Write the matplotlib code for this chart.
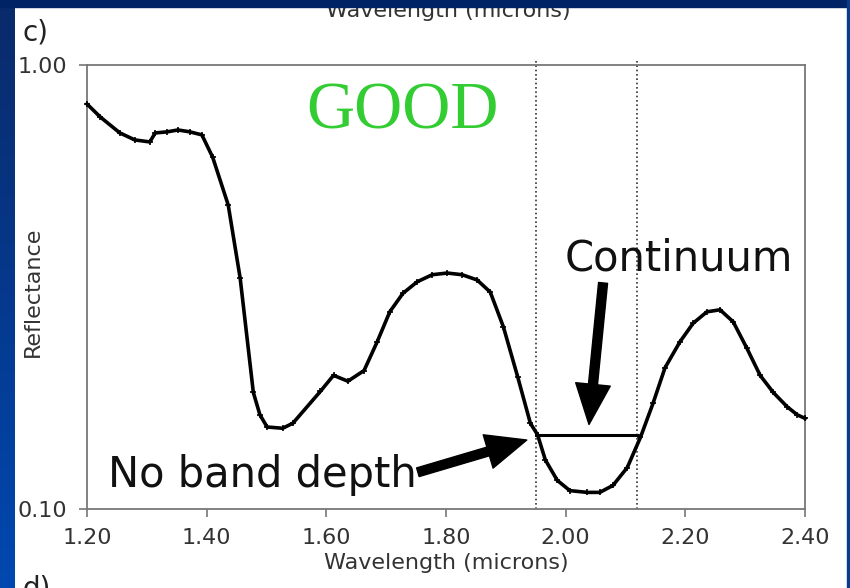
import numpy as np
import matplotlib.pyplot as plt
from matplotlib.patches import Rectangle
from matplotlib.colors import LinearSegmentedColormap

# 反射スペクトル (波長 [micron], 反射率)
wavelength = [1.200, 1.222, 1.255, 1.280, 1.305, 1.314, 1.334, 1.352, 1.372, 1.392,
              1.410, 1.436, 1.456, 1.478, 1.489, 1.501, 1.527, 1.544, 1.590, 1.612, 1.636,
              1.663, 1.685, 1.706, 1.728, 1.752, 1.777, 1.802, 1.827, 1.852, 1.874,
              1.896, 1.920, 1.941, 1.953, 1.966, 1.986, 2.007, 2.036, 2.057, 2.079,
              2.103, 2.125, 2.146, 2.166, 2.191, 2.213, 2.236, 2.258, 2.280, 2.303,
              2.325, 2.347, 2.370, 2.387, 2.400]
reflectance = [0.817, 0.764, 0.703, 0.678, 0.671, 0.703, 0.707, 0.714, 0.707, 0.696,
               0.620, 0.484, 0.331, 0.183, 0.163, 0.153, 0.152, 0.156, 0.184, 0.200, 0.194,
               0.205, 0.238, 0.278, 0.306, 0.325, 0.337, 0.340, 0.337, 0.328, 0.308,
               0.257, 0.198, 0.156, 0.147, 0.129, 0.116, 0.110, 0.109, 0.109, 0.113,
               0.124, 0.145, 0.173, 0.208, 0.238, 0.262, 0.278, 0.281, 0.264, 0.230,
               0.200, 0.183, 0.170, 0.163, 0.160]

# 連続体の両端と値
continuum_left = 1.95
continuum_right = 2.12
continuum_value = 0.147

x_ticks = [1.2, 1.4, 1.6, 1.8, 2.0, 2.2, 2.4]
x_ticklabels = ["1.20", "1.40", "1.60", "1.80", "2.00", "2.20", "2.40"]
y_ticks = [0.1, 1.0]
y_ticklabels = ["0.10", "1.00"]

W, H = 850, 588
fig = plt.figure(figsize=(W / 100, H / 100), dpi=100, facecolor="white")

# スライドの背景 (左のグラデーション帯、上と右の帯)
grad_ax = fig.add_axes([0, 0, 14 / W, 1])
grad = np.linspace(0, 1, 256).reshape(-1, 1)
slide_cmap = LinearSegmentedColormap.from_list("slide", ["#0a2a6a", "#0048b0"])
grad_ax.imshow(grad, aspect="auto", cmap=slide_cmap, origin="upper")
grad_ax.axis("off")
fig.patches.append(Rectangle((0, 1 - 7 / H), 1, 7 / H, transform=fig.transFigure,
                             color="#002366", zorder=10))
fig.patches.append(Rectangle((847 / W, 0), 3 / W, 1, transform=fig.transFigure,
                             color="#0a3a8a", zorder=10))

# 上のパネルの軸ラベル (一部だけ見える) とパネル記号
fig.text(448 / W, 1 - 17 / H, "Wavelength (microns)", ha="center", va="baseline",
         fontsize=16, color="#333333", zorder=1)
fig.text(22 / W, 1 - 40 / H, "c)", ha="left", va="baseline", fontsize=20, color="#222222")
fig.text(22 / W, -8 / H, "d)", ha="left", va="baseline", fontsize=20, color="#222222")

ax = fig.add_axes([87 / W, 1 - 509 / H, (805 - 87) / W, (509 - 65) / H])
ax.set_yscale("log")
ax.set_xlim(1.2, 2.4)
ax.set_ylim(0.1, 1.0)

# スペクトル
ax.plot(wavelength, reflectance, color="black", lw=2.6, marker="+", ms=4.5, mew=1.2,
        solid_joinstyle="round", zorder=3, clip_on=False)

# 連続体の位置を示す点線と水平線
for xv in (continuum_left, continuum_right):
    ax.axvline(xv, ymin=0, ymax=1.008, color="#333333", lw=1.2, ls=(0, (1, 1.6)),
               clip_on=False, zorder=2)
ax.plot([continuum_left, continuum_right], [continuum_value, continuum_value],
        color="black", lw=2.2, zorder=3)

# 注記
ax.text(1.728, 0.721, "GOOD", ha="center", va="baseline", fontsize=48,
        family="Liberation Serif", color="#33cc33")
ax.text(1.999, 0.345, "Continuum", ha="left", va="baseline", fontsize=30, color="#111111")
ax.text(1.235, 0.112, "No band depth", ha="left", va="baseline", fontsize=30,
        color="#111111")
arrow_kw = dict(facecolor="black", edgecolor="black", width=6.5, headwidth=25,
                headlength=29, shrink=0)
ax.annotate("", xy=(2.039, 0.155), xytext=(2.0625, 0.323), arrowprops=arrow_kw)
ax.annotate("", xy=(1.935, 0.143), xytext=(1.753, 0.121), arrowprops=arrow_kw)

# 軸
ax.set_xticks(x_ticks)
ax.set_xticklabels(x_ticklabels)
ax.set_yticks(y_ticks)
ax.set_yticklabels(y_ticklabels)
ax.minorticks_off()
ax.tick_params(direction="out", length=6, width=1.2, color="#777777",
               labelsize=16, labelcolor="#333333", pad=8)
for s in ax.spines.values():
    s.set_color("#777777")
    s.set_linewidth(1.3)
ax.set_xlabel("Wavelength (microns)", fontsize=16, color="#333333", labelpad=3)
ax.set_ylabel("Reflectance", fontsize=16, color="#333333")
ax.yaxis.set_label_coords(-0.061, 0.49)

fig.savefig("out.png", dpi=100, facecolor="white")
